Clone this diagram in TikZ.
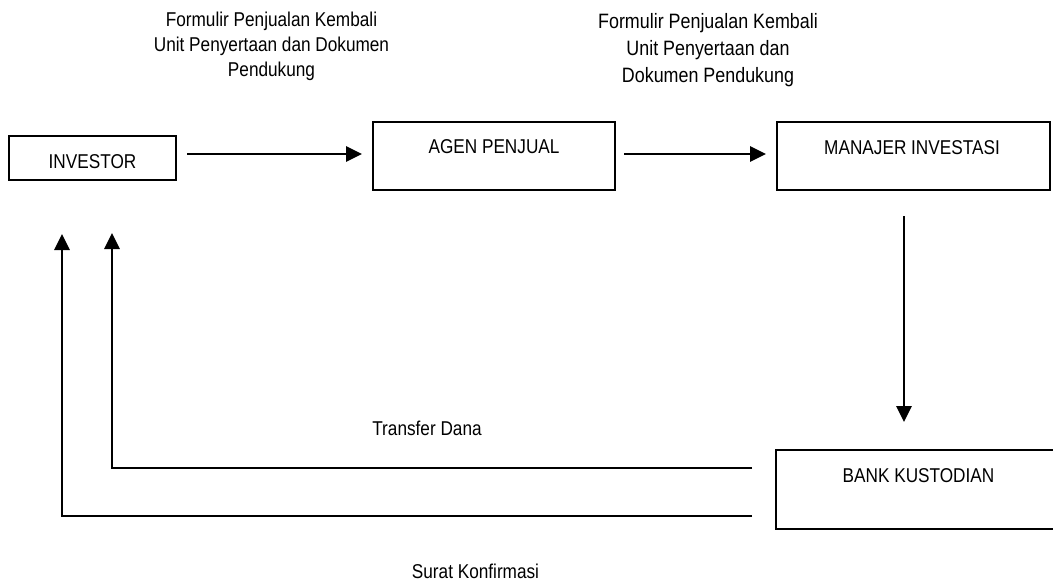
\documentclass[tikz,border=0pt]{standalone}
\usepackage{fontspec}
\setmainfont{Liberation Sans}[FakeStretch=0.86]
\usetikzlibrary{arrows.meta,calc}
\begin{document}
\begin{tikzpicture}[x=0.75pt,y=-0.75pt,
  box/.style={draw, line width=1.5pt, inner sep=0pt},
  txt/.style={inner sep=0pt, font=\fontsize{15}{18.75}\selectfont},
  txtb/.style={inner sep=0pt, font=\fontsize{15.6}{20.6}\selectfont},
  arr/.style={line width=1.5pt, -{Triangle[length=12pt,width=11.5pt]}},
  conn/.style={line width=1.5pt}]
\useasboundingbox (0,0) rectangle (1053,585);
\clip (0,0) rectangle (1053,585);
% boxes
\node[box, minimum width=125.25pt, minimum height=33pt] (inv) at (92.5,158) {};
\node[txt, anchor=base] (invt) at (92.5,168) {INVESTOR};
\node[box, minimum width=181.5pt, minimum height=51pt] (agen) at (494,156) {};
\node[txt, anchor=base] (agent) at (494,153.5) {AGEN PENJUAL};
\node[box, minimum width=204.75pt, minimum height=51pt] (mi) at (913.5,156) {};
\node[txt, anchor=base] (mit) at (912,154) {MANAJER INVESTASI};
\node[box, minimum width=213.75pt, minimum height=59.25pt] (bank) at (918.5,489.5) {};
\node[txt, anchor=base] (bankt) at (918.5,482) {BANK KUSTODIAN};
% labels
\node[txt, align=center, anchor=base] (l1) at (271.5,77) {Formulir Penjualan Kembali\\Unit Penyertaan dan Dokumen\\Pendukung};
\node[txtb, align=center, anchor=base] (l2) at (708,83) {Formulir Penjualan Kembali\\Unit Penyertaan dan\\Dokumen Pendukung};
\node[txt, anchor=base] (td) at (427,435) {Transfer Dana};
\node[txt, anchor=base] (sk) at (475.5,578) {Surat Konfirmasi};
% connectors
\coordinate (ya) at (0,154);
\coordinate (xd) at (904,0);
\draw[arr] ($(inv.east |- ya)+(10,0)$) -- ($(agen.west |- ya)+(-10,0)$);
\draw[arr] ($(agen.east |- ya)+(8,0)$) -- ($(mi.west |- ya)+(-10,0)$);
\draw[arr] ($(mi.south -| xd)+(0,25)$) -- ($(bank.north -| xd)+(0,-27)$);
\draw[arr] ($(bank.west)+(-23,-21.5)$) -| ($(inv.south)+(19.5,52)$);
\draw[arr] ($(bank.west)+(-23,26.5)$) -| ($(inv.south)+(-30.5,53)$);
\end{tikzpicture}
\end{document}
